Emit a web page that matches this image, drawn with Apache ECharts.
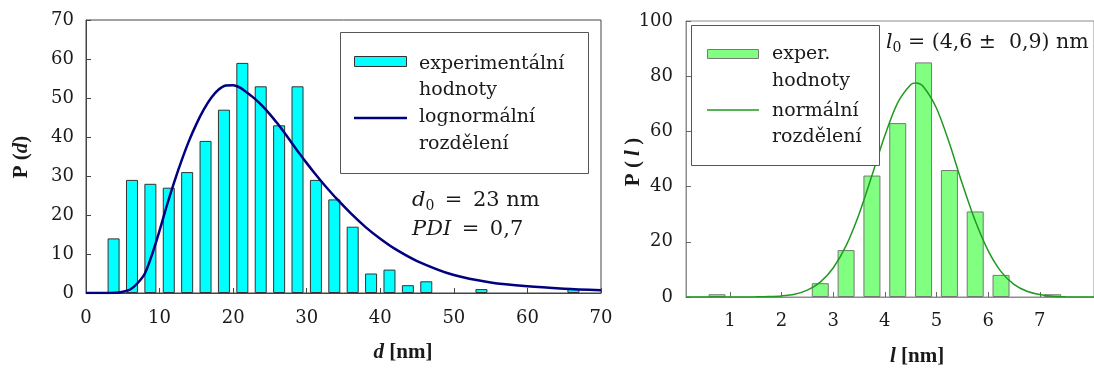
<!DOCTYPE html>
<html>
<head>
<meta charset="utf-8">
<title>Distribuce velikostí</title>
<script src="https://cdn.jsdelivr.net/npm/echarts@6.0.0/dist/echarts.min.js"></script>
<style>
  html, body { margin: 0; padding: 0; background: #fff; }
  #chart { width: 1094px; height: 372px; }
</style>
</head>
<body>
<div id="chart"></div>
<script>
// levý graf: průměr d [nm], histogram + lognormální rozdělení
const dCenters = [3.75, 6.25, 8.75, 11.25, 13.75, 16.25, 18.75, 21.25, 23.75, 26.25, 28.75, 31.25, 33.75, 36.25, 38.75, 41.25, 43.75, 46.25, 53.75, 66.25]
const dCounts = [14, 29, 28, 27, 31, 39, 47, 59, 53, 43, 53, 29, 24, 17, 5, 6, 2, 3, 1, 1]
const dFitX = [0, 2, 4, 5, 6, 7, 8, 9, 10, 11, 12, 13, 14, 15, 16, 17, 18, 19, 20, 21, 22, 23, 24, 25, 26, 27, 28, 29, 30, 31, 32, 33, 34, 36, 38, 40, 42, 45, 50, 55, 60, 65, 70]
const dFitY = [0, 0, 0.05, 0.3, 0.9, 2.5, 5, 10, 16, 22.5, 28.5, 34, 39, 43.3, 47, 50, 52.1, 53.2, 53.3, 52.6, 51.2, 49.7, 47.9, 45.8, 43.5, 41, 38.4, 35.8, 33.3, 30.9, 28.6, 26.4, 24.3, 20.4, 16.9, 13.9, 11.3, 8.2, 4.6, 2.7, 1.7, 1.1, 0.7]

// pravý graf: délka l [nm], histogram + normální rozdělení
const lCenters = [0.75, 2.75, 3.25, 3.75, 4.25, 4.75, 5.25, 5.75, 6.25, 7.25]
const lCounts = [1, 5, 17, 44, 63, 85, 46, 31, 8, 1]
const lFitX = [0.15, 1, 1.5, 1.75, 2, 2.25, 2.5, 2.75, 3, 3.25, 3.5, 3.75, 4, 4.25, 4.5, 4.6, 4.75, 5, 5.25, 5.5, 5.75, 6, 6.25, 6.5, 6.75, 7, 7.25, 7.5, 8.05]
const lFitY = [0, 0, 0.05, 0.15, 0.4, 1, 2.5, 5.4, 10.5, 18.6, 30, 44, 58.5, 70.4, 76.9, 77.5, 76.1, 68.4, 55.7, 41, 27.6, 16.8, 9.2, 4.6, 2.1, 0.9, 0.3, 0.1, 0]
const lTicks = [1, 2, 3, 4, 5, 6, 7]

const serif = 'DejaVu Serif'
const titleFont = 'Liberation Serif'
const ink = '#1a1a1a'

function pairs(xs, ys) {
  return xs.map((x, i) => [x, ys[i]])
}

const tickLabel = { fontFamily: serif, fontSize: 18, color: ink }

// texty legendy
function txt(x, y, text) {
  return {
    type: 'text', x: x, y: y, z: 100,
    style: { text: text, fontFamily: serif, fontSize: 19, fill: ink, verticalAlign: 'middle' }
  }
}
// matematické popisky (kurzíva + dolní index)
function mathTxt(x, y, text, size) {
  const rich = {
    i: { fontFamily: serif, fontSize: size, fontStyle: 'italic', fill: ink, lineHeight: 24 },
    r: { fontFamily: serif, fontSize: size, fill: ink, lineHeight: 24 },
    s: { fontFamily: serif, fontSize: 14, fill: ink, verticalAlign: 'bottom' }
  }
  return { type: 'text', x: x, y: y, z: 100, style: { text: text, rich: rich, verticalAlign: 'middle' } }
}

const axisTitleRich = {
  b: { fontFamily: titleFont, fontSize: 21, fontWeight: 'bold', fill: ink },
  bi: { fontFamily: titleFont, fontSize: 21, fontWeight: 'bold', fontStyle: 'italic', fill: ink }
}

const chart = echarts.init(document.getElementById('chart'))

chart.setOption({
  animation: false,
  backgroundColor: '#fff',
  grid: [
    { left: 86, top: 20, width: 515, height: 273, show: true, borderColor: '#444', borderWidth: 1 },
    // pravý graf je oříznutý vpravo, proto šířka přes okraj
    { left: 686, top: 21, width: 420, height: 276, show: true, borderColor: '#8c8c8c', borderWidth: 1 }
  ],
  xAxis: [
    {
      type: 'value', gridIndex: 0, min: 0, max: 70, interval: 10,
      axisLine: { lineStyle: { color: '#444' } },
      axisTick: { inside: true, length: 5, lineStyle: { color: '#444' } },
      splitLine: { show: false },
      axisLabel: Object.assign({ margin: 16 }, tickLabel)
    },
    {
      type: 'value', gridIndex: 1, min: 0.15, max: 8.05,
      axisLine: { lineStyle: { color: '#8c8c8c' } },
      axisTick: { inside: true, length: 5, customValues: lTicks, lineStyle: { color: '#666' } },
      splitLine: { show: false },
      axisLabel: Object.assign({ margin: 15, customValues: lTicks }, tickLabel)
    }
  ],
  yAxis: [
    {
      type: 'value', gridIndex: 0, min: 0, max: 70, interval: 10,
      axisLine: { show: true, lineStyle: { color: '#444' } },
      axisTick: { show: true, inside: true, length: 5, lineStyle: { color: '#444' } },
      splitLine: { show: false },
      axisLabel: Object.assign({ margin: 12 }, tickLabel)
    },
    {
      type: 'value', gridIndex: 1, min: 0, max: 100, interval: 20,
      axisLine: { show: true, lineStyle: { color: '#8c8c8c' } },
      axisTick: { show: true, inside: true, length: 5, lineStyle: { color: '#666' } },
      splitLine: { show: false },
      axisLabel: Object.assign({ margin: 13 }, tickLabel)
    }
  ],
  series: [
    {
      name: 'experimentální hodnoty', type: 'bar', xAxisIndex: 0, yAxisIndex: 0,
      data: pairs(dCenters, dCounts), barWidth: 12,
      itemStyle: { color: '#00ffff', borderColor: '#333', borderWidth: 1 }
    },
    {
      name: 'lognormální rozdělení', type: 'line', xAxisIndex: 0, yAxisIndex: 0,
      data: pairs(dFitX, dFitY), smooth: 0.3, showSymbol: false,
      lineStyle: { color: '#000080', width: 2.5 }
    },
    {
      name: 'exper. hodnoty', type: 'bar', xAxisIndex: 1, yAxisIndex: 1,
      data: pairs(lCenters, lCounts), barWidth: 17,
      itemStyle: { color: '#80ff80', borderColor: '#777', borderWidth: 1 }
    },
    {
      name: 'normální rozdělení', type: 'line', xAxisIndex: 1, yAxisIndex: 1,
      data: pairs(lFitX, lFitY), smooth: 0.3, showSymbol: false,
      lineStyle: { color: '#1f9a1f', width: 1.5 }
    }
  ],
  graphic: [
    // legenda vlevo
    { type: 'rect', z: 90, shape: { x: 340.5, y: 32.5, width: 248, height: 141 }, style: { fill: '#fff', stroke: '#555', lineWidth: 1 } },
    { type: 'rect', z: 100, shape: { x: 354.5, y: 56.5, width: 52, height: 10 }, style: { fill: '#00ffff', stroke: '#333', lineWidth: 1 } },
    { type: 'line', z: 100, shape: { x1: 354, y1: 118, x2: 407, y2: 118 }, style: { stroke: '#000080', lineWidth: 2.5 } },
    txt(419, 64, 'experimentální'),
    txt(419, 90, 'hodnoty'),
    txt(419, 117, 'lognormální'),
    txt(419, 144, 'rozdělení'),
    mathTxt(412, 201, '{i|d}{s|0}{r|\u2002=\u200223 nm}', 21),
    mathTxt(412, 230, '{i|PDI}{r|\u2002=\u20020,7}', 21),

    // legenda vpravo
    { type: 'rect', z: 90, shape: { x: 691.5, y: 25.5, width: 188, height: 140 }, style: { fill: '#fff', stroke: '#555', lineWidth: 1 } },
    { type: 'rect', z: 100, shape: { x: 707.5, y: 49.5, width: 51, height: 9 }, style: { fill: '#80ff80', stroke: '#777', lineWidth: 1 } },
    { type: 'line', z: 100, shape: { x1: 707, y1: 110, x2: 759, y2: 110 }, style: { stroke: '#1f9a1f', lineWidth: 1.5 } },
    txt(772, 54, 'exper.'),
    txt(772, 81, 'hodnoty'),
    txt(772, 111, 'normální'),
    txt(772, 137, 'rozdělení'),
    mathTxt(886, 43, '{i|l}{s|0}{r| = (4,6 ±  0,9) nm}', 20.5),

    // popisky os
    { type: 'text', z: 100, x: 22, y: 157, rotation: Math.PI / 2,
      style: { text: '{b|P (}{bi|d}{b|)}', rich: axisTitleRich, align: 'center', verticalAlign: 'middle' } },
    { type: 'text', z: 100, x: 403, y: 353,
      style: { text: '{bi|d}{b| [nm]}', rich: axisTitleRich, align: 'center', verticalAlign: 'middle' } },
    { type: 'text', z: 100, x: 634, y: 162, rotation: Math.PI / 2,
      style: { text: '{b|P ( }{bi|l}{b| )}', rich: axisTitleRich, align: 'center', verticalAlign: 'middle' } },
    { type: 'text', z: 100, x: 917, y: 357,
      style: { text: '{bi|l}{b| [nm]}', rich: axisTitleRich, align: 'center', verticalAlign: 'middle' } }
  ]
})
</script>
</body>
</html>
